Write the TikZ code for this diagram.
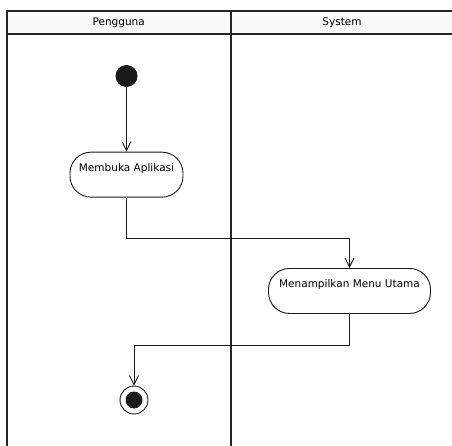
\documentclass[tikz,border=0pt]{standalone}
\usepackage{fontspec}
\setmainfont{DejaVu Sans}
\usetikzlibrary{arrows.meta}
\begin{document}
\begin{tikzpicture}[x=1pt,y=-1pt,
  lane/.style={draw=black!85,line width=2pt},
  lanetitle/.style={font=\fontsize{10.5}{12}\selectfont,anchor=center},
  activity/.style={draw=black!90,line width=0.9pt,rounded corners=21pt,
    font=\fontsize{10.5}{12}\selectfont,inner xsep=2pt,inner ysep=0pt,
    text height=19pt,text depth=26pt,anchor=north},
  flow/.style={draw=black!90,line width=0.9pt,-{Straight Barb[length=9pt,width=9pt]}},
  startnode/.style={circle,fill=black!90,minimum size=22pt,inner sep=0pt},
  endring/.style={circle,draw=black!90,line width=0.9pt,minimum size=28pt,inner sep=0pt},
  enddot/.style={circle,fill=black!90,minimum size=17pt,inner sep=0pt}]
\useasboundingbox (0,0) rectangle (452,446);
% swimlane frame
\fill[black!2] (7,10.7) rectangle (452,34.5);
\draw[lane] (452,10.7) -- (7,10.7) -- (7,446);
\draw[lane] (7,34.5) -- (452,34.5);
\draw[lane] (230.5,10.7) -- (230.5,446);
\node[lanetitle] (h1) at (118.7,23) {Pengguna};
\node[lanetitle] (h2) at (342,23) {System};
% activity nodes
\node[startnode] (start) at (126.5,76) {};
\node[activity,minimum width=113pt] (a1) at (126.5,151.7) {Membuka Aplikasi};
\node[activity,minimum width=162pt] (a2) at (349.5,268) {Menampilkan Menu Utama};
\node[endring] (fin) at (134,400) {};
\node[enddot] at (fin) {};
% control flow
\draw[flow] (start) -- (a1.north);
\draw[flow] (a1.south) -- ++(0,41.3) -| (a2.north);
\draw[flow] (a2.south) -- ++(0,32) -| (fin.north);
\end{tikzpicture}
\end{document}
